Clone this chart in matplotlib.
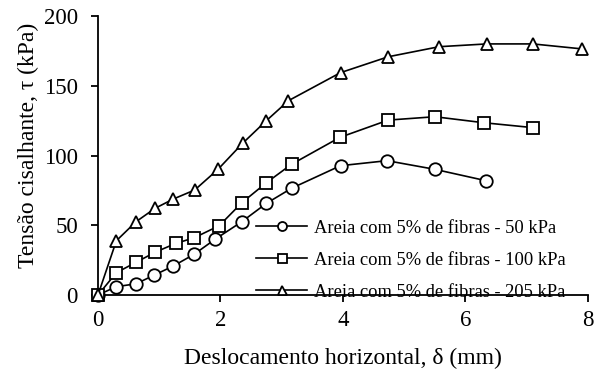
import matplotlib
matplotlib.use("Agg")
import matplotlib.pyplot as plt

plt.rcParams["font.family"] = ["Liberation Serif", "DejaVu Serif"]

# Deslocamento horizontal (mm) e tensão cisalhante (kPa)
x_50 = [0.0, 0.30, 0.62, 0.92, 1.23, 1.57, 1.91, 2.35, 2.75, 3.16, 3.96, 4.72, 5.50, 6.33]
t_50 = [0.0, 6.0, 8.0, 14.3, 20.8, 29.2, 39.9, 52.6, 65.7, 76.5, 92.7, 96.3, 90.1, 82.0]

x_100 = [0.0, 0.30, 0.62, 0.93, 1.27, 1.57, 1.98, 2.35, 2.75, 3.16, 3.95, 4.74, 5.50, 6.30, 7.10]
t_100 = [0.0, 16.0, 23.4, 30.6, 37.0, 41.0, 49.7, 66.2, 80.5, 93.7, 113.0, 125.4, 127.8, 123.5, 120.0]

x_205 = [0.0, 0.30, 0.62, 0.93, 1.23, 1.58, 1.96, 2.36, 2.75, 3.11, 3.96, 4.74, 5.57, 6.35, 7.10, 7.91]
t_205 = [0.0, 38.9, 52.5, 62.1, 68.8, 75.3, 90.1, 108.7, 125.0, 139.3, 159.4, 170.8, 178.0, 180.0, 180.0, 176.4]

labels = ["Areia com 5% de fibras - 50 kPa",
          "Areia com 5% de fibras - 100 kPa",
          "Areia com 5% de fibras - 205 kPa"]
markers = ["o", "s", "^"]

fig = plt.figure(figsize=(6.03, 3.76), dpi=100)
ax = fig.add_axes([0.1625, 0.2154, 0.8125, 0.742])

for xs, ts, m, lbl in zip([x_50, x_100, x_205], [t_50, t_100, t_205], markers, labels):
    ax.plot(xs, ts, color="black", lw=1.2, marker=m, markersize=9,
            markerfacecolor="white", markeredgecolor="black", markeredgewidth=1.3,
            label=lbl, clip_on=False, zorder=3)

ax.set_xlim(0, 8)
ax.set_ylim(0, 200)
ax.set_xticks([0, 2, 4, 6, 8])
ax.set_yticks([0, 50, 100, 150, 200])
for s in ["top", "right"]:
    ax.spines[s].set_visible(False)
for s in ["left", "bottom"]:
    ax.spines[s].set_linewidth(1.3)
ax.tick_params(direction="out", length=5, width=1.3, labelsize=16.5, pad=6)
ax.tick_params(axis="y", pad=9.5)

ax.set_xlabel("Deslocamento horizontal, δ (mm)", fontsize=17, labelpad=12)
ax.set_ylabel("Tensão cisalhante, τ (kPa)", fontsize=17)
ax.yaxis.set_label_coords(-0.12, 0.538)

ax.legend(loc="lower left", bbox_to_anchor=(0.425, 0.2), bbox_transform=fig.transFigure,
          frameon=False, fontsize=13.3, handlelength=2.75, handletextpad=0.4,
          labelspacing=0.82, borderpad=0, borderaxespad=0, markerscale=0.72)

fig.savefig("out.png", dpi=100)
